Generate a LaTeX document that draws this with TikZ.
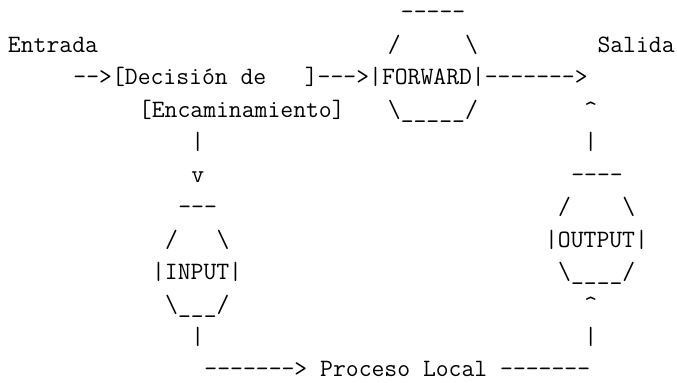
\documentclass[tikz,border=0pt]{standalone}
\usepackage{fontspec}
\tikzset{
  ascii/.style={anchor=base west, inner sep=0pt, outer sep=0pt,
    font=\fontsize{12.48pt}{15pt}\selectfont\ttfamily\addfontfeatures{FakeBold=0.5}}
}
\begin{document}
\begin{tikzpicture}[x=6.55pt,y=-16.225pt]
\useasboundingbox (-4pt,10pt) rectangle (334.5pt,-181.5pt);
% top: entrada, forward, salida
\node[ascii] (fwdtop) at (30,0) {-----};
\node[ascii] (entrada) at (0,1) {Entrada};
\node[ascii] (fwdup) at (29,1) {/~~~~~\textbackslash};
\node[ascii] (salida) at (45,1) {Salida};
\node[ascii] (decision) at (5,2) {-->[Decisión de~~~]--->|FORWARD|------->};
\node[ascii] (encam) at (10,3) {[Encaminamiento]};
\node[ascii] (fwdlow) at (29,3) {\textbackslash\_\_\_\_\_/};
\node[ascii] (upa) at (44,3) {\textasciicircum};
% input side
\node[ascii] (bara) at (14,4) {|};
\node[ascii] (down) at (14,5) {v};
\node[ascii] (intop) at (13,6) {---};
\node[ascii] (inup) at (12,7) {/~~~\textbackslash};
\node[ascii] (input) at (11,8) {|INPUT|};
\node[ascii] (inlow) at (12,9) {\textbackslash\_\_\_/};
\node[ascii] (barb) at (14,10) {|};
% output side
\node[ascii] (barc) at (44,4) {|};
\node[ascii] (outtop) at (43,5) {----};
\node[ascii] (outup) at (42,6) {/~~~~\textbackslash};
\node[ascii] (output) at (41,7) {|OUTPUT|};
\node[ascii] (outlow) at (42,8) {\textbackslash\_\_\_\_/};
\node[ascii] (upb) at (44,9) {\textasciicircum};
\node[ascii] (bard) at (44,10) {|};
% bottom
\node[ascii] (local) at (15,11) {-------> Proceso Local -------};
\end{tikzpicture}
\end{document}
